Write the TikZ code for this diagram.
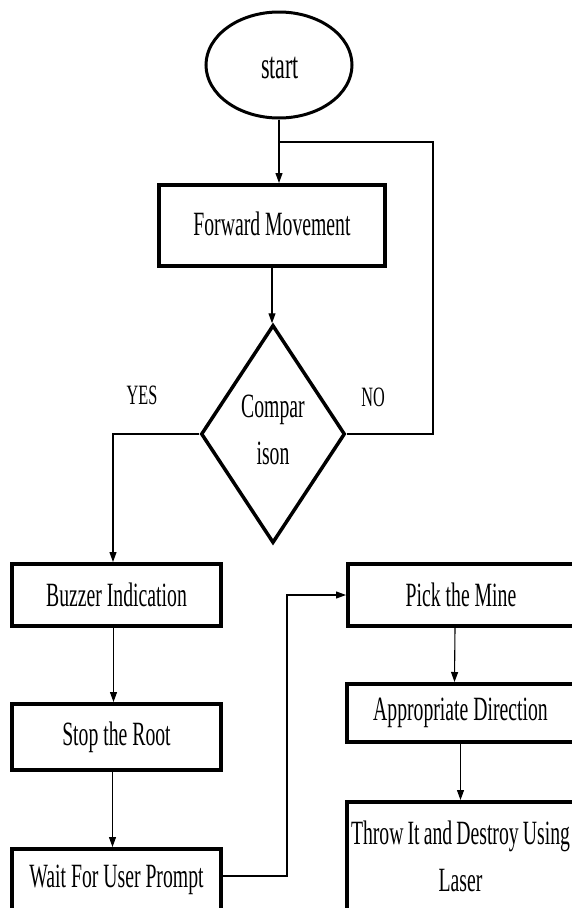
\documentclass[tikz,border=0pt]{standalone}
\usepackage{fontspec}
\setmainfont{Liberation Serif}[FakeStretch=0.58]
\usetikzlibrary{shapes.geometric,arrows.meta}
\begin{document}
\begin{tikzpicture}[x=1pt,y=-1pt,
  txt/.style={font=\fontsize{34}{47}\selectfont,align=center},
  box/.style={txt,draw,line width=4pt,rectangle,inner sep=0pt},
  conn/.style={line width=1.1pt},
  arr/.style={conn,-{Triangle[length=10pt,width=7pt]}},
  lbl/.style={font=\fontsize{28}{32}\selectfont}]
\useasboundingbox (0,0) rectangle (572,908);
\clip (0,0) rectangle (572,908);
\fill[white] (0,0) rectangle (572,908);

% nodes
\node[draw,ellipse,line width=3pt,inner sep=0pt,minimum width=146pt,minimum height=106pt] (start) at (279,65) {};
\node[txt,font=\fontsize{38}{47}\selectfont] (starttxt) at (280,68) {start};
\node[box,minimum width=226pt,minimum height=81pt] (fwd) at (272,225.5) {\raisebox{4pt}{Forward Movement}};
\node[txt,draw,diamond,line width=3.5pt,inner sep=0pt,minimum width=144pt,minimum height=218pt] (cmp) at (273,434) {};
\node[txt] (cmptxt) at (273,430) {Compar\\ison};
\node[box,minimum width=209pt,minimum height=62pt] (buz) at (116.5,595) {Buzzer Indication};
\node[box,minimum width=209pt,minimum height=66pt] (stop) at (116.5,737) {Stop the Root};
\node[box,minimum width=209pt,minimum height=62pt] (wait) at (116.5,880) {Wait For User Prompt};
\node[box,minimum width=226pt,minimum height=62pt] (pick) at (461,595) {Pick the Mine};
\node[box,minimum width=227pt,minimum height=58pt] (appr) at (460.5,713) {Appropriate Direction};
\node[box,minimum width=227pt,minimum height=108pt] (throw) at (460.5,856) {\spaceskip=0.12em Throw It and Destroy Using\\Laser};

\node[lbl] (yes) at (142,395) {YES};
\node[lbl] (no) at (373,397) {NO};

% helper coordinates
\coordinate (j) at (279,142);
\coordinate (nocorner) at (433,142);
\coordinate (yc) at (113,434);
\coordinate (wc) at (287,876);

% connectors
\draw[arr] (start.south) -- (start.south |- fwd.north);
\draw[conn] (cmp.east) -| (nocorner) -- (j);
\draw[arr] (fwd.south) -- (fwd.south |- cmp.north);
\draw[arr] (cmp.west) -- (yc) -- (yc |- buz.north);
\draw[arr] ([xshift=-3pt]buz.south) -- ([xshift=-3pt]stop.north);
\draw[arr] ([xshift=-4pt]stop.south) -- ([xshift=-4pt]wait.north);
\draw[arr] (wait.east |- wc) -- (wc) -- (wc |- pick.west) -- (pick.west);
\draw[arr] ([xshift=-6pt]pick.south) -- ([xshift=-6pt]appr.north);
\draw[arr] (appr.south) -- (throw.north);
\end{tikzpicture}
\end{document}
